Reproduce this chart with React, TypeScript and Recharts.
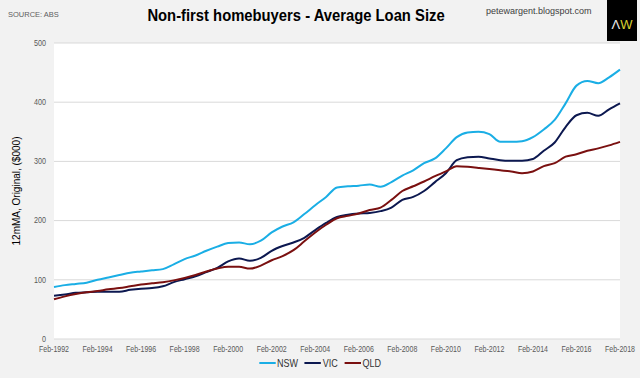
import { LineChart, Line, XAxis, YAxis, CartesianGrid, Legend } from "recharts";

// half-yearly readings, Feb-1992 .. Feb-2018
const periods = Array.from({ length: 53 }, (_, i) => {
  const year = 1992 + Math.floor(i / 2);
  return (i % 2 === 0 ? "Feb-" : "Aug-") + year;
});

const nsw = [
  88, 91, 93, 95, 100, 104, 108, 112, 114, 116, 118, 126, 135, 141, 149, 156, 162, 163, 160, 166,
  180, 190, 197, 211, 226, 240, 256, 258, 259, 261, 257, 265, 276, 285, 297, 305, 322, 341, 349, 350,
  346, 333, 333, 334, 341, 354, 370, 398, 428, 436, 432, 442, 455,
];

const vic = [
  73, 75, 78, 79, 80, 80, 80, 83, 85, 86, 89, 96, 101, 106, 113, 120, 131, 136, 132, 137,
  149, 157, 163, 171, 184, 196, 206, 210, 212, 213, 216, 222, 235, 240, 250, 265, 280, 302, 307, 308,
  305, 302, 301, 301, 304, 318, 332, 358, 378, 382, 377, 388, 398,
];

const qld = [
  67, 72, 76, 79, 81, 84, 86, 89, 92, 94, 96, 99, 103, 108, 114, 119, 122, 122, 119, 124,
  133, 140, 150, 165, 180, 193, 204, 208, 212, 218, 222, 235, 250, 258, 266, 275, 283, 292, 291, 289,
  287, 285, 283, 280, 283, 292, 297, 308, 312, 318, 322, 327, 333,
];

const yTicks = [0, 100, 200, 300, 400, 500];

const series = [
  { key: "NSW", color: "#1aaee5" },
  { key: "VIC", color: "#0c1850" },
  { key: "QLD", color: "#7a1010" },
];

const data = periods.map((p, i) => ({ period: p, NSW: nsw[i], VIC: vic[i], QLD: qld[i] }));

const font = "'Liberation Sans', Arial, sans-serif";

function XTick({ x, y, payload }: any) {
  return (
    <g transform={`translate(${x} ${y}) scale(0.78 1)`}>
      <text x={0} y={0} dy="0.8em" textAnchor="middle" fontSize={9} fill="#595959" fontFamily={font}>
        {payload.value}
      </text>
    </g>
  );
}

function YTick({ x, y, payload }: any) {
  return (
    <g transform={`translate(${x} ${y}) scale(0.8 1)`}>
      <text x={0} y={0} dy="0.3em" textAnchor="end" fontSize={9} fill="#595959" fontFamily={font}>
        {payload.value}
      </text>
    </g>
  );
}

function LegendBox() {
  return (
    <div style={{ display: "flex", justifyContent: "center", gap: 8, fontFamily: font, fontSize: 11, color: "#333", transform: "scaleX(0.82)" }}>
      {series.map((s) => (
        <span key={s.key} style={{ display: "flex", alignItems: "center" }}>
          <span style={{ width: 20, height: 2, background: s.color, display: "inline-block", marginRight: 2 }} />
          {s.key}
        </span>
      ))}
    </div>
  );
}

export default function App() {
  return (
    <div style={{ position: "fixed", left: 0, top: 0, width: 640, height: 378, background: "#f2f2f2", overflow: "hidden" }}>
      <div style={{ position: "absolute", left: 8, top: 10, fontSize: 7.5, color: "#606060", fontFamily: font }}>
        SOURCE: ABS
      </div>
      <div style={{ position: "absolute", left: 0, width: 592, top: 6, textAlign: "center", fontSize: 17, fontWeight: "bold", color: "#000", fontFamily: font, transform: "scaleX(0.87)" }}>
        Non-first homebuyers - Average Loan Size
      </div>
      <div style={{ position: "absolute", left: 486, top: 6, fontSize: 9, color: "#404040", fontFamily: font }}>
        petewargent.blogspot.com
      </div>
      <div style={{ position: "absolute", left: 607, top: 0, width: 30, height: 41, background: "#000", fontFamily: font, fontSize: 13, lineHeight: "13px", textAlign: "center", paddingTop: 18, boxSizing: "border-box" }}>
        <span style={{ color: "#e8e8e8" }}>Λ</span>
        <span style={{ color: "#d8d030" }}>W</span>
      </div>
      <LineChart width={640} height={378} data={data} margin={{ top: 43, right: 20, bottom: 0, left: 14 }}>
        <CartesianGrid vertical={false} stroke="#d9d9d9" fill="#ffffff" />
        <XAxis dataKey="period" interval={3} height={39} axisLine={false} tickLine={false} tickMargin={0} tick={<XTick />} />
        <YAxis
          domain={[0, 500]}
          ticks={yTicks}
          width={40}
          axisLine={false}
          tickLine={false}
          tick={<YTick />}
          label={{
            value: "12mMA, Original, ($000)",
            angle: -90,
            position: "insideLeft",
            offset: 2,
            style: { fontSize: 10, fill: "#000", fontFamily: font, textAnchor: "middle" },
          }}
        />
        <Legend verticalAlign="middle" align="center" content={<LegendBox />} wrapperStyle={{ top: 357, left: 0, width: 640 }} />
        {series.map((s) => (
          <Line key={s.key} type="monotone" dataKey={s.key} stroke={s.color} strokeWidth={2} dot={false} isAnimationActive={false} />
        ))}
      </LineChart>
    </div>
  );
}
